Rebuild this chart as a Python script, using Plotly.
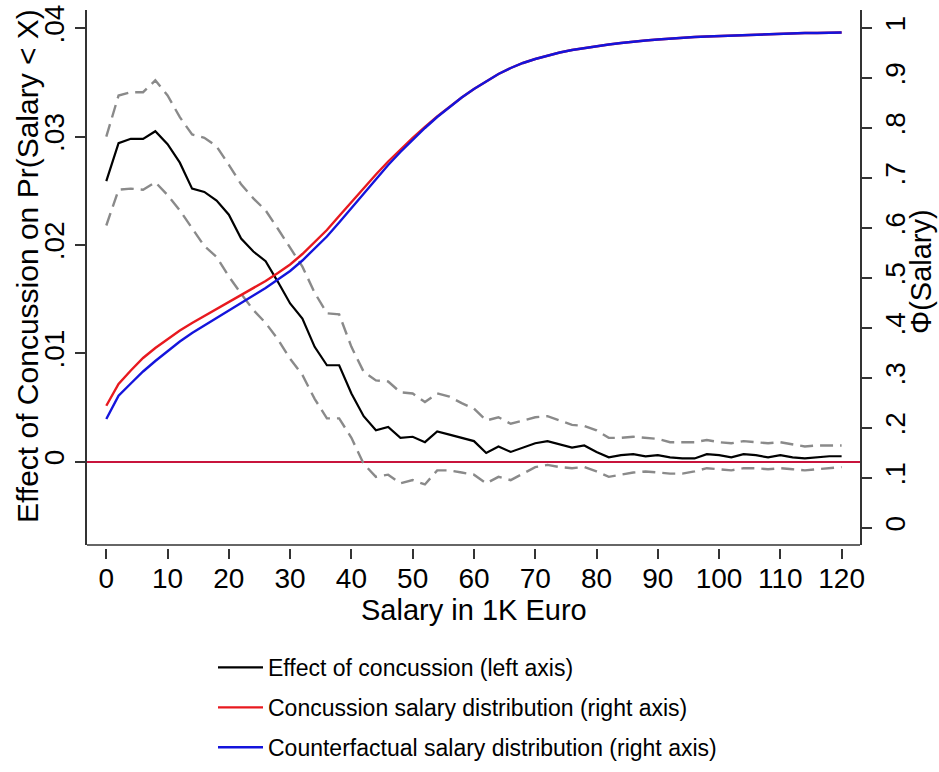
import plotly.graph_objects as go

salary = list(range(0, 121, 2))

effect = [0.0259, 0.0294, 0.0298, 0.0298, 0.0305, 0.0293, 0.0276, 0.0252, 0.0249, 0.0241, 0.0228, 0.0206,
          0.0194, 0.0185, 0.0166, 0.0146, 0.0132, 0.0106, 0.0089, 0.0089, 0.0063, 0.0042, 0.0029, 0.0032,
          0.0022, 0.0023, 0.0018, 0.0028, 0.0025, 0.0022, 0.0019, 0.0008, 0.0014, 0.0009, 0.0013, 0.0017,
          0.0019, 0.0016, 0.0013, 0.0015, 0.0009, 0.0004, 0.0006, 0.0007, 0.0005, 0.0006, 0.0004, 0.0003,
          0.0003, 0.0007, 0.0006, 0.0004, 0.0007, 0.0006, 0.0004, 0.0006, 0.0004, 0.0003, 0.0004, 0.0005, 0.0005]

upper_ci = [0.0300, 0.0338, 0.0341, 0.0341, 0.0352, 0.0338, 0.0318, 0.0302, 0.0299, 0.0291, 0.0274, 0.0256,
            0.0243, 0.0232, 0.0215, 0.0198, 0.0180, 0.0156, 0.0137, 0.0136, 0.0106, 0.0083, 0.0075, 0.0074,
            0.0064, 0.0063, 0.0055, 0.0063, 0.0060, 0.0054, 0.0049, 0.0038, 0.0041, 0.0035, 0.0038, 0.0041,
            0.0042, 0.0038, 0.0034, 0.0033, 0.0029, 0.0022, 0.0022, 0.0023, 0.0022, 0.0021, 0.0018, 0.0018,
            0.0018, 0.0020, 0.0018, 0.0017, 0.0019, 0.0018, 0.0017, 0.0018, 0.0016, 0.0014, 0.0015, 0.0015, 0.0015]

lower_ci = [0.0218, 0.0251, 0.0252, 0.0251, 0.0258, 0.0246, 0.0232, 0.0215, 0.0199, 0.0189, 0.0171, 0.0155,
            0.0140, 0.0128, 0.0113, 0.0095, 0.0080, 0.0058, 0.0040, 0.0040, 0.0022, -0.0002, -0.0014, -0.0012,
            -0.0020, -0.0017, -0.0021, -0.0008, -0.0008, -0.0010, -0.0012, -0.0020, -0.0014, -0.0017, -0.0011, -0.0005,
            -0.0003, -0.0005, -0.0006, -0.0005, -0.0009, -0.0014, -0.0012, -0.0010, -0.0009, -0.0010, -0.0011, -0.0011,
            -0.0009, -0.0006, -0.0007, -0.0008, -0.0006, -0.0006, -0.0007, -0.0006, -0.0007, -0.0008, -0.0007, -0.0006, -0.0005]

concussion_cdf = [0.2445, 0.288, 0.315, 0.340, 0.360, 0.378, 0.395, 0.410, 0.424, 0.438, 0.452, 0.466,
                  0.480, 0.494, 0.510, 0.527, 0.548, 0.571, 0.596, 0.624, 0.652, 0.680, 0.707, 0.733,
                  0.757, 0.780, 0.802, 0.823, 0.842, 0.861, 0.878, 0.893, 0.908, 0.920, 0.930, 0.938,
                  0.945, 0.951, 0.956, 0.960, 0.964, 0.967, 0.970, 0.973, 0.975, 0.977, 0.979, 0.980,
                  0.982, 0.983, 0.984, 0.985, 0.986, 0.987, 0.988, 0.988, 0.989, 0.990, 0.990, 0.991, 0.991]

counterfactual_cdf = [0.218, 0.2645, 0.289, 0.313, 0.334, 0.354, 0.373, 0.390, 0.405, 0.420, 0.435, 0.450,
                      0.465, 0.480, 0.497, 0.514, 0.535, 0.558, 0.583, 0.611, 0.640, 0.669, 0.698, 0.726,
                      0.752, 0.777, 0.800, 0.822, 0.842, 0.861, 0.878, 0.893, 0.908, 0.920, 0.930, 0.938,
                      0.945, 0.951, 0.956, 0.960, 0.964, 0.967, 0.970, 0.973, 0.975, 0.977, 0.979, 0.980,
                      0.982, 0.983, 0.984, 0.985, 0.986, 0.987, 0.988, 0.988, 0.989, 0.990, 0.990, 0.991, 0.991]

left_ticks = [0, 0.01, 0.02, 0.03, 0.04]
left_ticktext = ["0", ".01", ".02", ".03", ".04"]
right_ticks = [0, 0.1, 0.2, 0.3, 0.4, 0.5, 0.6, 0.7, 0.8, 0.9, 1]
right_ticktext = ["0", ".1", ".2", ".3", ".4", ".5", ".6", ".7", ".8", ".9", "1"]
x_ticks = list(range(0, 121, 10))

x_title = "Salary in 1K Euro"
left_title = "Effect of Concussion on Pr(Salary < X)"
right_title = "Φ(Salary)"

FONT = "Liberation Sans, Arial, Helvetica, sans-serif"
AX = "#333333"
TITLE_FONT = dict(family=FONT, size=29, color="black")
LEFT_TITLE_FONT = dict(family=FONT, size=30, color="black")

fig = go.Figure()
fig.add_trace(go.Scatter(x=salary, y=upper_ci, mode="lines", showlegend=False,
                         line=dict(color="#8a8a8a", width=2.4, dash="13px,7px")))
fig.add_trace(go.Scatter(x=salary, y=lower_ci, mode="lines", showlegend=False,
                         line=dict(color="#8a8a8a", width=2.4, dash="13px,7px")))
fig.add_trace(go.Scatter(x=salary, y=effect, mode="lines", name="Effect of concussion (left axis)",
                         legendgroup="a", legendrank=1, line=dict(color="black", width=2.2)))
fig.add_trace(go.Scatter(x=salary, y=concussion_cdf, mode="lines", yaxis="y2",
                         name="Concussion salary distribution (right axis)",
                         legendgroup="b", legendrank=2, line=dict(color="#e8191f", width=2.4)))
fig.add_trace(go.Scatter(x=salary, y=counterfactual_cdf, mode="lines", yaxis="y2",
                         name="Counterfactual salary distribution (right axis)",
                         legendgroup="c", legendrank=3, line=dict(color="#1414dc", width=2.4)))

fig.update_layout(
    width=939, height=772,
    margin=dict(l=87, r=79, t=10, b=224, autoexpand=False),
    paper_bgcolor="white", plot_bgcolor="white",
    font=dict(family=FONT, size=28, color="black"),
    xaxis=dict(range=[-3.15, 123.0], tickvals=x_ticks, ticks="outside", ticklen=10, tickwidth=1.5,
               tickcolor=AX, showline=False, showgrid=False, zeroline=False, anchor="free", position=0,
               ticklabelstandoff=-5, tickfont=dict(size=28)),
    yaxis=dict(domain=[3/538, 1], range=[-0.00769, 0.04169], tickvals=left_ticks, ticktext=left_ticktext,
               tickangle=-90, ticks="outside", ticklen=10, tickwidth=1.5, tickcolor=AX,
               showline=True, linecolor=AX, linewidth=1.5, showgrid=False,
               zeroline=True, zerolinecolor="#c8143c", zerolinewidth=2),
    yaxis2=dict(overlaying="y", side="right", range=[-0.034, 1.036], tickvals=right_ticks,
                ticktext=right_ticktext, tickangle=-90, ticks="outside", ticklen=10, tickwidth=1.5,
                tickcolor=AX, showline=True, linecolor=AX, linewidth=1.5, showgrid=False, zeroline=False),
    legend=dict(xref="container", yref="container", x=213/939, xanchor="left", y=1 - 646/772,
                yanchor="top", font=dict(size=23),
                itemwidth=45, tracegroupgap=7, bgcolor="rgba(0,0,0,0)", traceorder="grouped"),
    shapes=[dict(type="line", xref="x domain", yref="y domain", x0=0, x1=1, y0=0, y1=0,
                 line=dict(color=AX, width=1.5))],
    annotations=[
        dict(text=x_title, xref="x domain", yref="paper", x=(474 - 87) / 773, y=(548 - 610) / 538,
             xanchor="center", yanchor="middle", showarrow=False, font=TITLE_FONT),
        dict(text=left_title, xref="paper", yref="y domain", x=(27 - 87) / 773, y=(545 - 266) / 535,
             xanchor="center", yanchor="middle", textangle=-90, showarrow=False, font=LEFT_TITLE_FONT),
        dict(text=right_title, xref="paper", yref="y domain", x=(921 - 87) / 773, y=(545 - 272) / 535,
             xanchor="center", yanchor="middle", textangle=-90, showarrow=False, font=TITLE_FONT),
    ],
)

fig.write_html("out.html")
